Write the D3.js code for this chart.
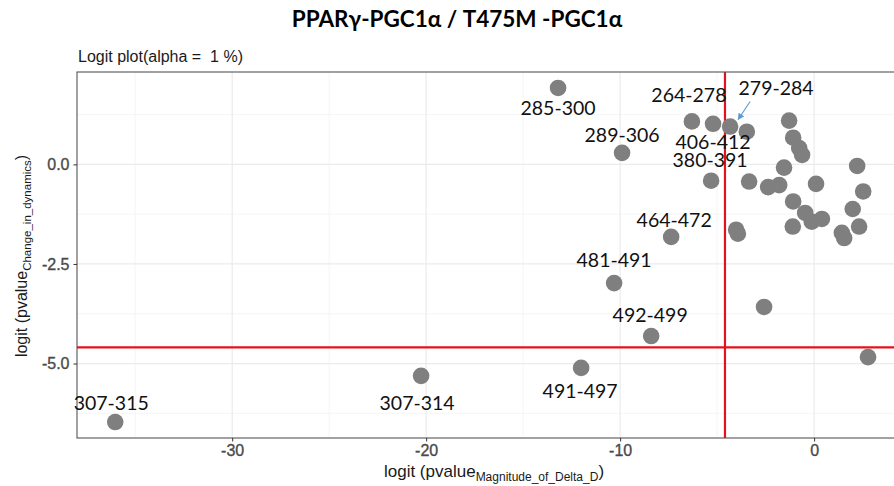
<!DOCTYPE html>
<html>
<head>
<meta charset="utf-8">
<script src="https://cdn.jsdelivr.net/npm/d3@7/dist/d3.min.js"></script>
<style>
  html, body { margin: 0; padding: 0; background: #fff; }
  svg { display: block; }
  .pre { white-space: pre; }
</style>
</head>
<body>
<svg id="chart" width="894" height="486"></svg>
<script>
// Unlabelled peptides: logit p-values (magnitude of ΔD, change in dynamics)
const pointX = [-3.47, -1.29, -1.08, -0.77, -0.62, -1.55, 2.22, -3.35, -2.37, -1.80,
                0.10, 2.53, -1.08, 1.99, -0.46, -0.12, 0.40, -1.10, 2.32, 1.43,
                1.55, -4.02, -3.93, -2.58, 2.78];
const pointY = [0.82, 1.10, 0.67, 0.41, 0.24, -0.08, -0.04, -0.43, -0.57, -0.52,
                -0.49, -0.68, -0.93, -1.12, -1.22, -1.44, -1.37, -1.56, -1.56, -1.72,
                -1.85, -1.64, -1.74, -3.58, -4.84];

// Labelled peptides
const labelNames = ["285-300", "289-306", "264-278", "406-412", "279-284", "380-391",
                    "464-472", "481-491", "492-499", "491-497", "307-314", "307-315"];
const labelX = [-13.2, -9.90, -6.30, -5.21, -4.33, -5.31, -7.37, -10.31, -8.40, -12.01, -20.26, -36.03];
const labelY = [1.92, 0.29, 1.08, 1.02, 0.95, -0.41, -1.82, -2.98, -4.31, -5.11, -5.31, -6.47];

// Axis ticks
const xTicks = [-30, -20, -10, 0];
const yTicks = [-5.0, -2.5, 0.0];
const xMinor = [-35, -25, -15, -5];
const yMinor = [-6.25, -3.75, -1.25, 1.25];

// Significance threshold: logit(alpha) with alpha = 1 %
const alpha = 0.01;
const threshold = Math.log(alpha / (1 - alpha));

// Label placement relative to each point (pixels: dx, dy to text baseline centre)
const labelOffset = {
  "285-300": [0, 27], "289-306": [0, -11], "264-278": [-3, -19], "406-412": [0, 25],
  "279-284": [46, -32], "380-391": [-1, -14], "464-472": [3, -10], "481-491": [0, -16],
  "492-499": [-1, -14], "491-497": [-1, 30], "307-314": [-4, 34], "307-315": [-4, -12]
};

const svg = d3.select("#chart");
const panel = { left: 77, right: 895, top: 72, bottom: 438 };

const x = d3.scaleLinear().domain([-38.0, 4.17]).range([panel.left, panel.right]);
const y = d3.scaleLinear().domain([2.32, -6.87]).range([panel.top, panel.bottom]);

const sans = "'Liberation Sans', Arial, sans-serif";
// Plain hyphen-minus for negative tick values
const hyphenate = fmt => d => fmt(d).replace("\u2212", "-");

// Title and subtitle
svg.append("text")
  .attr("x", 457).attr("y", 27)
  .attr("text-anchor", "middle")
  .attr("font-family", "Lato, 'Open Sans', sans-serif")
  .attr("font-weight", "bold").attr("font-size", 22.5)
  .attr("fill", "#000")
  .text("PPARγ-PGC1α / T475M -PGC1α");

svg.append("text")
  .attr("class", "pre")
  .attr("x", 78).attr("y", 62)
  .attr("font-family", sans)
  .attr("font-size", 16).attr("fill", "#1a1a1a")
  .text("Logit plot(alpha =  1 %)");

// Grid
const grid = svg.append("g");
grid.selectAll(".xminor").data(xMinor).join("line")
  .attr("x1", d => x(d)).attr("x2", d => x(d))
  .attr("y1", panel.top).attr("y2", panel.bottom)
  .attr("stroke", "#f2f2f2").attr("stroke-width", 0.8);
grid.selectAll(".yminor").data(yMinor).join("line")
  .attr("y1", d => y(d)).attr("y2", d => y(d))
  .attr("x1", panel.left).attr("x2", panel.right)
  .attr("stroke", "#f2f2f2").attr("stroke-width", 0.8);
grid.selectAll(".xmajor").data(xTicks).join("line")
  .attr("x1", d => x(d)).attr("x2", d => x(d))
  .attr("y1", panel.top).attr("y2", panel.bottom)
  .attr("stroke", "#ebebeb").attr("stroke-width", 1.2);
grid.selectAll(".ymajor").data(yTicks).join("line")
  .attr("y1", d => y(d)).attr("y2", d => y(d))
  .attr("x1", panel.left).attr("x2", panel.right)
  .attr("stroke", "#ebebeb").attr("stroke-width", 1.2);

// Threshold lines
svg.append("line")
  .attr("x1", x(threshold)).attr("x2", x(threshold))
  .attr("y1", panel.top).attr("y2", panel.bottom)
  .attr("stroke", "#e3121c").attr("stroke-width", 2.2);
svg.append("line")
  .attr("x1", panel.left).attr("x2", panel.right)
  .attr("y1", y(threshold)).attr("y2", y(threshold))
  .attr("stroke", "#e3121c").attr("stroke-width", 2.2);

// Points
const allX = pointX.concat(labelX);
const allY = pointY.concat(labelY);
svg.append("g").selectAll("circle").data(d3.range(allX.length)).join("circle")
  .attr("cx", i => x(allX[i])).attr("cy", i => y(allY[i]))
  .attr("r", 8.3).attr("fill", "#7f7f7f");

// Panel border
svg.append("rect")
  .attr("x", panel.left).attr("y", panel.top)
  .attr("width", panel.right - panel.left).attr("height", panel.bottom - panel.top)
  .attr("fill", "none").attr("stroke", "#555").attr("stroke-width", 1.1);

// Axes
const xAxis = svg.append("g").attr("transform", `translate(0,${panel.bottom})`)
  .call(d3.axisBottom(x).tickValues(xTicks).tickSize(3.5).tickPadding(3)
    .tickFormat(hyphenate(d3.format("d"))));
const yAxis = svg.append("g").attr("transform", `translate(${panel.left},0)`)
  .call(d3.axisLeft(y).tickValues(yTicks).tickSize(3.5).tickPadding(4)
    .tickFormat(hyphenate(d3.format(".1f"))));
[xAxis, yAxis].forEach(a => {
  a.select(".domain").remove();
  a.selectAll(".tick line").attr("stroke", "#333").attr("stroke-width", 1);
  a.selectAll(".tick text")
    .attr("font-family", sans)
    .attr("font-size", 16).attr("fill", "#4a4a4a")
    .attr("stroke", "#4a4a4a").attr("stroke-width", 0.35);
});

// Axis titles with subscripts
const xTitle = svg.append("text")
  .attr("x", 494).attr("y", 477)
  .attr("text-anchor", "middle")
  .attr("font-family", sans)
  .attr("font-size", 17).attr("fill", "#1a1a1a");
xTitle.append("tspan").text("logit (pvalue");
xTitle.append("tspan").attr("font-size", 12).attr("dy", 4).text("Magnitude_of_Delta_D");
xTitle.append("tspan").attr("dy", -4).text(")");

const yTitle = svg.append("text")
  .attr("transform", "translate(27,256) rotate(-90)")
  .attr("text-anchor", "middle")
  .attr("font-family", sans)
  .attr("font-size", 16).attr("fill", "#1a1a1a");
yTitle.append("tspan").text("logit (pvalue");
yTitle.append("tspan").attr("font-size", 11.5).attr("dy", 4).text("Change_in_dynamics");
yTitle.append("tspan").attr("dy", -4).text(")");

// Peptide labels
const labels = svg.append("g")
  .attr("font-family", "Lato, 'Open Sans', sans-serif")
  .attr("font-size", 19.5).attr("fill", "#111");
labelNames.forEach((name, i) => {
  const [dx, dy] = labelOffset[name];
  labels.append("text")
    .attr("x", x(labelX[i]) + dx).attr("y", y(labelY[i]) + dy)
    .attr("text-anchor", "middle")
    .text(name);
});

// Pointer from the 279-284 label to its point
const k = labelNames.indexOf("279-284");
const px = x(labelX[k]), py = y(labelY[k]);
svg.append("defs").append("marker")
  .attr("id", "head").attr("viewBox", "0 0 10 10")
  .attr("refX", 9).attr("refY", 5)
  .attr("markerWidth", 6).attr("markerHeight", 6)
  .attr("orient", "auto")
  .append("path").attr("d", "M0,0 L10,5 L0,10 z").attr("fill", "#5b9bd5");
svg.append("line")
  .attr("x1", px + 20).attr("y1", py - 25)
  .attr("x2", px + 8).attr("y2", py - 7)
  .attr("stroke", "#5b9bd5").attr("stroke-width", 1.1)
  .attr("marker-end", "url(#head)");
</script>
</body>
</html>
